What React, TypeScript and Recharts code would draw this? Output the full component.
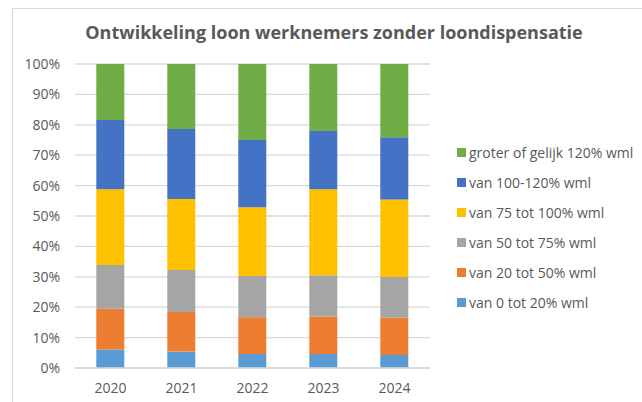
import React from 'react';
import { BarChart, Bar, XAxis, YAxis, CartesianGrid } from 'recharts';

const years = ['2020', '2021', '2022', '2023', '2024'];

// shares in % per wage band, bottom to top
const band0to20 = [6.1, 5.4, 4.6, 4.6, 4.3];
const band20to50 = [13.4, 13.0, 12.1, 12.3, 12.2];
const band50to75 = [14.4, 13.8, 13.6, 13.6, 13.4];
const band75to100 = [24.9, 23.4, 22.6, 28.3, 25.5];
const band100to120 = [22.8, 23.0, 22.1, 19.2, 20.5];
const band120plus = [18.4, 21.4, 25.0, 22.0, 24.1];

const yTicks = [0, 10, 20, 30, 40, 50, 60, 70, 80, 90, 100];

const series = [
  { key: 'b0', name: 'van 0 tot 20% wml', values: band0to20, color: '#5b9bd5' },
  { key: 'b20', name: 'van 20 tot 50% wml', values: band20to50, color: '#ed7d31' },
  { key: 'b50', name: 'van 50 tot 75% wml', values: band50to75, color: '#a5a5a5' },
  { key: 'b75', name: 'van 75 tot 100% wml', values: band75to100, color: '#ffc000' },
  { key: 'b100', name: 'van 100-120% wml', values: band100to120, color: '#4472c4' },
  { key: 'b120', name: 'groter of gelijk 120% wml', values: band120plus, color: '#70ad47' },
];

const data = years.map((year, i) => {
  const row: Record<string, string | number> = { year };
  series.forEach(s => { row[s.key] = s.values[i]; });
  return row;
});

const FONT = '"Open Sans", sans-serif';
const TEXT = '#595959';

export default function App() {
  return (
    <div style={{ position: 'absolute', left: 0, top: 0, width: 642, height: 402, background: '#fff', overflow: 'hidden' }}>
      <div style={{ position: 'absolute', left: 12, top: 8, width: 640, height: 400, border: '1px solid #d9d9d9', boxSizing: 'border-box' }} />
      <div style={{ position: 'absolute', left: 0, top: 20, width: 668, textAlign: 'center', fontFamily: FONT, fontWeight: 'bold', fontSize: 18, color: TEXT }}>
        Ontwikkeling loon werknemers zonder loondispensatie
      </div>
      <div style={{ position: 'absolute', left: 0, top: 0 }}>
        <BarChart width={642} height={402} data={data} margin={{ top: 64, right: 212, bottom: 4, left: 10 }} barCategoryGap="30%">
          <CartesianGrid vertical={false} stroke="#d9d9d9" strokeWidth={1.3} />
          <XAxis dataKey="year" height={30} axisLine={{ stroke: '#d9d9d9', strokeWidth: 1.3 }} tickLine={false}
            tick={{ fontSize: 14, fill: TEXT, fontFamily: FONT }} tickMargin={9} />
          <YAxis domain={[0, 100]} ticks={yTicks} width={65} axisLine={false} tickLine={false}
            tickFormatter={(v: number) => `${v}%`} tickMargin={9}
            tick={{ fontSize: 14, fill: TEXT, fontFamily: FONT }} />
          {series.map(s => (
            <Bar key={s.key} dataKey={s.key} name={s.name} stackId="a" fill={s.color} isAnimationActive={false} />
          ))}
        </BarChart>
      </div>
      <div style={{ position: 'absolute', left: 457, top: 137, fontFamily: FONT, fontSize: 14, color: TEXT }}>
        {[...series].reverse().map(s => (
          <div key={s.key} style={{ display: 'flex', alignItems: 'center', height: 30 }}>
            <span style={{ width: 9, height: 9, background: s.color, marginRight: 3, display: 'inline-block' }} />
            {s.name}
          </div>
        ))}
      </div>
    </div>
  );
}
